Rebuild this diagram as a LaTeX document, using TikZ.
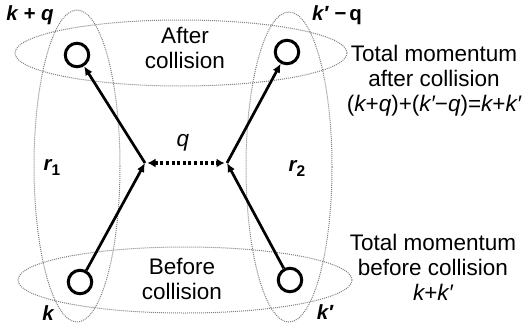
\documentclass[tikz,border=0pt]{standalone}
\usepackage{fontspec}
\setmainfont{Liberation Sans}
\usetikzlibrary{arrows.meta}
\begin{document}
\begin{tikzpicture}[x=1pt,y=-1pt,
  region/.style={draw=black!50, dash pattern=on 1pt off 1pt, line width=1pt},
  particle/.style={circle, draw=black, line width=3pt, minimum size=23.5pt, inner sep=0pt},
  prop/.style={line width=2.7pt, -{Latex[length=9pt,width=8pt]}},
  exch/.style={line width=3.4pt, dash pattern=on 3pt off 2.6pt, {Latex[length=8pt,width=9pt]}-{Latex[length=8pt,width=9pt]}, shorten <=2.5pt, shorten >=2.5pt},
  txt/.style={font=\fontsize{22.5}{25}\selectfont, align=center, inner sep=0pt},
  lab/.style={font=\fontsize{20.5}{22}\selectfont\bfseries\itshape, inner sep=0pt}
]
\useasboundingbox (0,0) rectangle (528,327);
% regions
\draw[region] (181,53) ellipse [x radius=166, y radius=33];
\draw[region] (185,280) ellipse [x radius=167, y radius=33];
\draw[region] (77,166) ellipse [x radius=43, y radius=156];
\draw[region] (289,167) ellipse [x radius=43, y radius=155];
% particles
\node[particle] (kq) at (77,55) {};
\node[particle] (kpq) at (287,52) {};
\node[particle] (k) at (80,282) {};
\node[particle] (kp) at (290,280) {};
\coordinate (v1) at (145,163);
\coordinate (v2) at (227,163);
\draw[prop] (k) -- (v1);
\draw[prop] (v1) -- (kq);
\draw[prop] (kp) -- (v2);
\draw[prop] (v2) -- (kpq);
\draw[exch] (v1) -- (v2);
% labels
\node[lab] (lkq) at (30,15) {k + q};
\node[lab] (lkpq) at (337,15) {k′ −\,{\upshape q}};
\node[lab] (lk) at (48,313) {k};
\node[lab] (lkp) at (325,312) {k′};
\node[lab] (r1) at (52,167) {r\raisebox{-5pt}{\fontsize{15.5}{15}\selectfont\upshape 1}};
\node[lab] (r2) at (297,168) {r\raisebox{-5pt}{\fontsize{15.5}{15}\selectfont\upshape 2}};
\node[txt, font=\fontsize{22.5}{25}\selectfont\itshape] (lq) at (183,143) {q};
\node[txt] (after) at (185,48) {After\\collision};
\node[txt] (before) at (182,279) {Before\\collision};
\node[txt] (tafter) at (434,81) {Total momentum\\after collision\\({\itshape k}+{\itshape q})+({\itshape k′}−{\itshape q})={\itshape k}+{\itshape k′}};
\node[txt] (tbefore) at (433,267) {Total momentum\\before collision\\{\itshape k}+{\itshape k′}};
\end{tikzpicture}
\end{document}
